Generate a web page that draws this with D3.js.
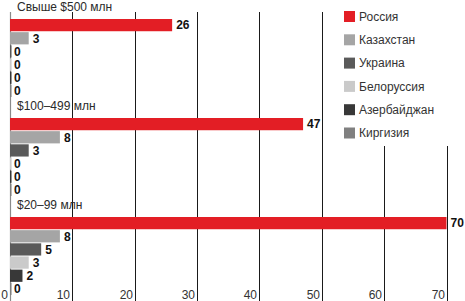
<!DOCTYPE html>
<html>
<head>
<meta charset="utf-8">
<script src="https://cdn.jsdelivr.net/npm/d3@7"></script>
<style>
body { margin: 0; background: #fff; }
svg { display: block; font-family: "Liberation Sans", Arial, sans-serif; }
</style>
</head>
<body>
<div class="chart"></div>
<script>
var width = 465;
var height = 301;

var groups = [`Свыше $500 млн`, `$100–499 млн`, `$20–99 млн`];
var countries = [`Россия`, `Казахстан`, `Украина`, `Белоруссия`, `Азербайджан`, `Киргизия`];
var colors = [`#e31e25`, `#a5a5a5`, `#5a5a5a`, `#cacaca`, `#383838`, `#808080`];
var russia = [26, 47, 70];
var kazakhstan = [3, 8, 8];
var ukraine = [0, 3, 5];
var belarus = [0, 0, 3];
var azerbaijan = [0, 0, 2];
var kyrgyzstan = [0, 0, 0];
var ticks = [0, 10, 20, 30, 40, 50, 60, 70];

var seriesValues = [russia, kazakhstan, ukraine, belarus, azerbaijan, kyrgyzstan];
var rows = [];
groups.forEach((g, gi) => {
    countries.forEach((c, ci) => {
        rows.push({group: g, country: c, value: seriesValues[ci][gi], color: colors[ci]});
    });
});

var svg = d3.select(`.chart`)
    .append(`svg`)
    .attr(`width`, width)
    .attr(`height`, height);

var x = d3.scaleLinear().domain([0, 70]).range([10, 446.5]);

var groupY = d3.scaleBand().domain(groups).range([0, 297]);
var header = 19;
var rowY = d3.scaleBand().domain(countries).range([0, 78]).paddingInner(0.07);

// gridlines
svg.append(`g`)
    .selectAll(`line`)
    .data(ticks.slice(1))
    .enter()
    .append(`line`)
    .attr(`x1`, d => Math.round(x(d)) + 0.5)
    .attr(`x2`, d => Math.round(x(d)) + 0.5)
    .attr(`y1`, 12)
    .attr(`y2`, height)
    .style(`stroke`, `#1a1a1a`)
    .style(`stroke-width`, 1);

// zero axis
svg.append(`line`)
    .attr(`x1`, Math.round(x(0)) + 0.5)
    .attr(`x2`, Math.round(x(0)) + 0.5)
    .attr(`y1`, 12)
    .attr(`y2`, height)
    .style(`stroke`, `#8a8a8a`)
    .style(`stroke-width`, 1.2);

// tick labels
svg.append(`g`)
    .selectAll(`text`)
    .data(ticks)
    .enter()
    .append(`text`)
    .attr(`x`, d => Math.round(x(d)) - 2)
    .attr(`y`, 299)
    .attr(`text-anchor`, `end`)
    .style(`font-size`, `12px`)
    .style(`fill`, `#333`)
    .text(d => d);

// legend background covers gridlines
svg.append(`rect`)
    .attr(`x`, 336)
    .attr(`y`, 0)
    .attr(`width`, width - 336)
    .attr(`height`, 146)
    .style(`fill`, `#fff`);

// group labels
svg.append(`g`)
    .selectAll(`text`)
    .data(groups)
    .enter()
    .append(`text`)
    .attr(`x`, 17)
    .attr(`y`, d => groupY(d) + header - 8)
    .style(`font-size`, `12px`)
    .style(`fill`, `#2a2a2a`)
    .text(d => d);

// bars
svg.append(`g`)
    .selectAll(`rect`)
    .data(rows)
    .enter()
    .append(`rect`)
    .attr(`x`, x(0))
    .attr(`y`, d => groupY(d.group) + header + rowY(d.country))
    .attr(`width`, d => Math.max(x(d.value) - x(0), 1.5))
    .attr(`height`, rowY.bandwidth())
    .style(`fill`, d => d.color);

// value labels
svg.append(`g`)
    .selectAll(`text`)
    .data(rows)
    .enter()
    .append(`text`)
    .attr(`x`, d => x(d.value) + 4)
    .attr(`y`, d => groupY(d.group) + header + rowY(d.country) + rowY.bandwidth() / 2)
    .attr(`dy`, `0.36em`)
    .style(`font-size`, `12px`)
    .style(`font-weight`, `bold`)
    .style(`fill`, `#111`)
    .text(d => d.value);

// legend
var legend = svg.append(`g`)
    .selectAll(`g`)
    .data(countries)
    .enter()
    .append(`g`)
    .attr(`transform`, (d, i) => `translate(344, ${11 + i * 23.3})`);

legend.append(`rect`)
    .attr(`width`, 11)
    .attr(`height`, 11)
    .style(`fill`, (d, i) => colors[i]);

legend.append(`text`)
    .attr(`x`, 15)
    .attr(`y`, 5.5)
    .attr(`dy`, `0.36em`)
    .style(`font-size`, `12px`)
    .style(`fill`, `#333`)
    .text(d => d);
</script>
</body>
</html>
